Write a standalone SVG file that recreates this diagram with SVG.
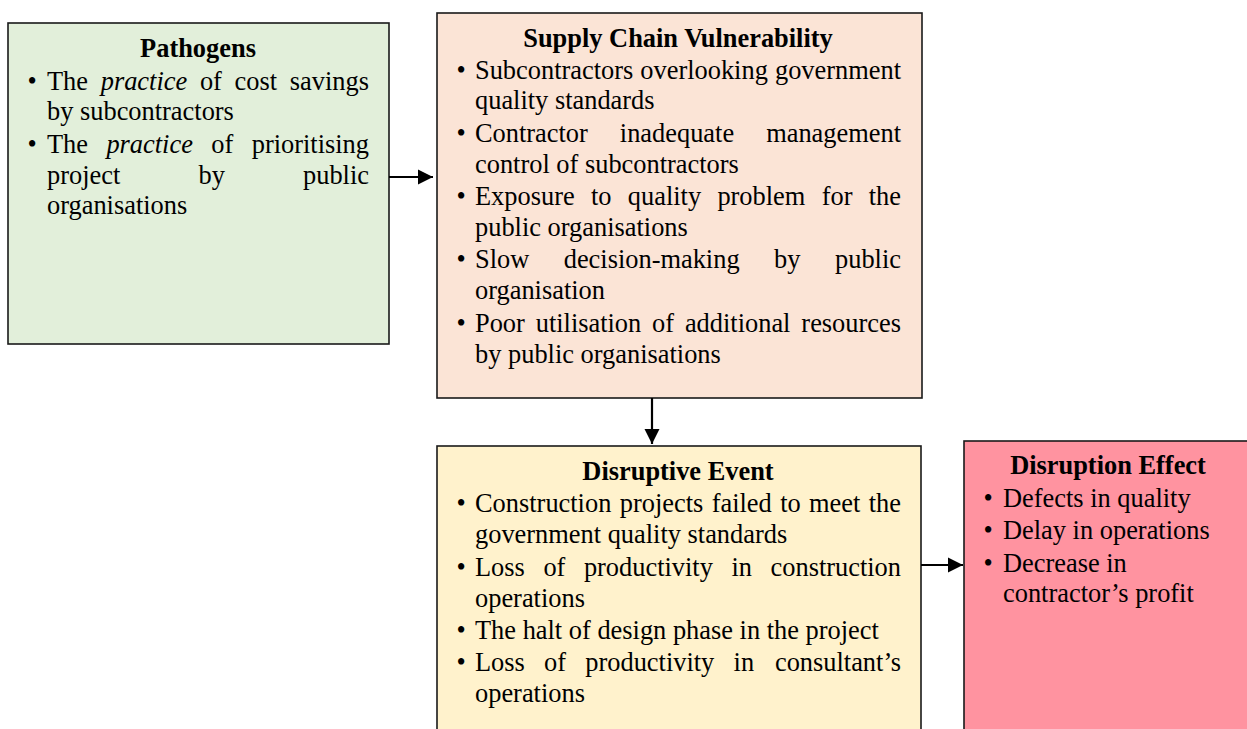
<svg xmlns="http://www.w3.org/2000/svg" width="1247" height="729" viewBox="0 0 1247 729">
<style>
text{font-family:"Liberation Serif","Times New Roman",serif;font-size:26.4px;fill:#000}
.t{font-weight:bold;text-anchor:middle}
.b{text-anchor:middle}
.e{text-anchor:end}
.i{font-style:italic}
.box{stroke:#1a1a1a;stroke-width:1.6}
.c{stroke:#000;stroke-width:2.2;fill:none}
</style>
<defs>
<marker id="ah" viewBox="0 0 10 10" refX="10" refY="5" markerWidth="7" markerHeight="7" markerUnits="strokeWidth" orient="auto">
<path d="M0,0 L10,5 L0,10 Z" fill="#000"/>
</marker>
</defs>
<g id="pathogens">
<rect class="box" x="8" y="23" width="381" height="321" fill="#E2EFDA"/>
<text class="t" x="198" y="57">Pathogens</text>
<text class="b" x="32" y="90">•</text>
<text x="47" y="90">The</text><text class="i" x="100.7" y="90">practice</text><text x="199.9" y="90">of</text><text x="234.6" y="90">cost</text><text class="e" x="369" y="90">savings</text>
<text x="47" y="120">by subcontractors</text>
<text class="b" x="32" y="153">•</text>
<text x="47" y="153">The</text><text class="i" x="106.4" y="153">practice</text><text x="211.3" y="153">of</text><text class="e" x="369" y="153">prioritising</text>
<text x="47" y="184">project</text><text x="198.5" y="184">by</text><text class="e" x="369" y="184">public</text>
<text x="47" y="214">organisations</text>
</g>
<g id="scv">
<rect class="box" x="437" y="13" width="485" height="385" fill="#FBE4D6"/>
<text class="t" x="678" y="47">Supply Chain Vulnerability</text>
<text class="b" x="461" y="79">•</text>
<text x="475" y="79">Subcontractors</text><text x="640.3" y="79">overlooking</text><text class="e" x="901" y="79">government</text>
<text x="475" y="109">quality standards</text>
<text class="b" x="461" y="142">•</text>
<text x="475" y="142">Contractor</text><text x="619.8" y="142">inadequate</text><text class="e" x="901" y="142">management</text>
<text x="475" y="173">control of subcontractors</text>
<text class="b" x="461" y="205">•</text>
<text x="475" y="205">Exposure</text><text x="591" y="205">to</text><text x="627.8" y="205">quality</text><text x="717.4" y="205">problem</text><text x="821.7" y="205">for</text><text class="e" x="901" y="205">the</text>
<text x="475" y="236">public organisations</text>
<text class="b" x="461" y="268">•</text>
<text x="475" y="268">Slow</text><text x="563.7" y="268">decision-making</text><text x="774.1" y="268">by</text><text class="e" x="901" y="268">public</text>
<text x="475" y="299">organisation</text>
<text class="b" x="461" y="332">•</text>
<text x="475" y="332">Poor</text><text x="535.7" y="332">utilisation</text><text x="652.1" y="332">of</text><text x="684.9" y="332">additional</text><text class="e" x="901" y="332">resources</text>
<text x="475" y="363">by public organisations</text>
</g>
<g id="event">
<rect class="box" x="437" y="446" width="484" height="300" fill="#FFF2CC"/>
<text class="t" x="678" y="480">Disruptive Event</text>
<text class="b" x="461" y="512">•</text>
<text x="475" y="512">Construction</text><text x="619.8" y="512">projects</text><text x="711.7" y="512">failed</text><text x="780.2" y="512">to</text><text x="809.1" y="512">meet</text><text class="e" x="901" y="512">the</text>
<text x="475" y="543">government quality standards</text>
<text class="b" x="461" y="576">•</text>
<text x="475" y="576">Loss</text><text x="543.4" y="576">of</text><text x="583.9" y="576">productivity</text><text x="731.5" y="576">in</text><text class="e" x="901" y="576">construction</text>
<text x="475" y="607">operations</text>
<text class="b" x="461" y="639">•</text>
<text x="475" y="639">The halt of design phase in the project</text>
<text class="b" x="461" y="671">•</text>
<text x="475" y="671">Loss</text><text x="544.1" y="671">of</text><text x="585.3" y="671">productivity</text><text x="733.6" y="671">in</text><text class="e" x="901" y="671">consultant’s</text>
<text x="475" y="702">operations</text>
</g>
<g id="effect">
<rect class="box" x="964" y="441" width="290" height="300" fill="#FF93A0"/>
<text class="t" x="1108" y="474">Disruption Effect</text>
<text class="b" x="988" y="507">•</text>
<text x="1003" y="507">Defects in quality</text>
<text class="b" x="988" y="539">•</text>
<text x="1003" y="539">Delay in operations</text>
<text class="b" x="988" y="572">•</text>
<text x="1003" y="572">Decrease in</text>
<text x="1003" y="602">contractor’s profit</text>
</g>
<g id="connectors">
<line class="c" x1="389" y1="177" x2="433" y2="177" marker-end="url(#ah)"/>
<line class="c" x1="652" y1="398" x2="652" y2="444" marker-end="url(#ah)"/>
<line class="c" x1="921" y1="565" x2="963" y2="565" marker-end="url(#ah)"/>
</g>
</svg>
